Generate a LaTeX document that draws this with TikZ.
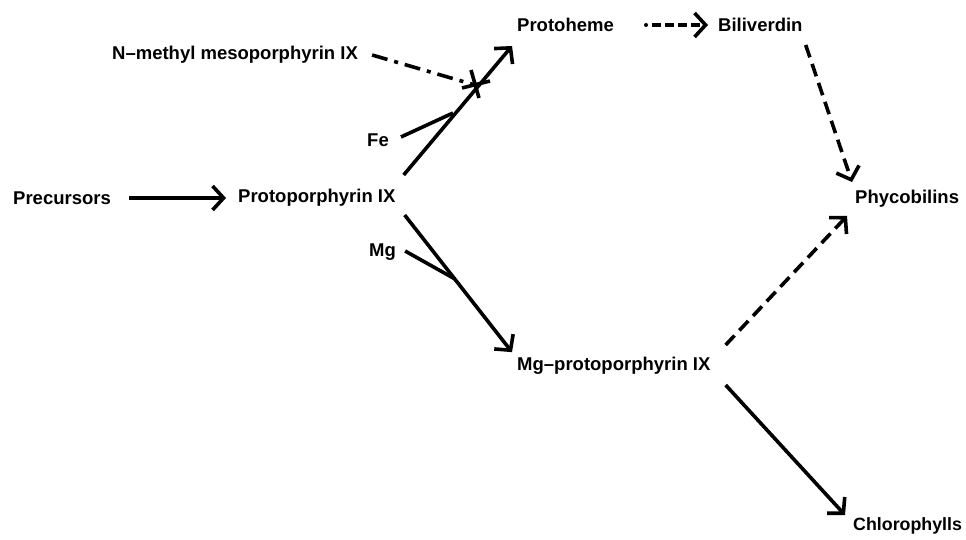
\documentclass[tikz,border=0pt]{standalone}
\usepackage{fontspec}
\setmainfont{Liberation Sans}
\usetikzlibrary{arrows.meta}
\begin{document}
\begin{tikzpicture}[x=1pt,y=-1pt,
  lbl/.style={anchor=west,inner sep=0pt,font=\bfseries\fontsize{18.5}{20}\selectfont},
  conn/.style={line width=3.6pt,-{Straight Barb[length=11pt,width=24pt,line width=3.6pt]}},
  plain/.style={line width=3.6pt},
  dsh/.style={dash pattern=on 13pt off 7pt},
  shortdsh/.style={dash pattern=on 9pt off 4pt},
  dshdot/.style={dash pattern=on 16pt off 7pt on 4pt off 7pt}]
\useasboundingbox (0,0) rectangle (966,540);
\node[lbl] (pre) at (13,198) {Precursors};
\node[lbl] (pp) at (238,198) {Protoporphyrin IX};
\node[lbl] (nm) at (112,55) {N--methyl mesoporphyrin IX};
\node[lbl] (ph) at (517,25) {Protoheme};
\node[lbl] (bv) at (718,25) {Biliverdin};
\node[lbl] (pc) at (855,199) {Phycobilins};
\node[lbl] (fe) at (367,140) {Fe};
\node[lbl] (mg) at (369,252) {Mg};
\node[lbl] (mgp) at (517,366) {Mg--protoporphyrin IX};
\node[lbl,font=\bfseries\fontsize{17.8}{20}\selectfont] (chl) at (853,526) {Chlorophylls};
\coordinate (star) at (475,85);
% main arrows
\draw[conn] ([xshift=18pt]pre.east) -- ([xshift=-12pt]pp.west);
\draw[conn] ([shift={(8,-23)}]pp.east) -- ([shift={(-5,14)}]ph.south west);
\draw[conn] ([shift={(9,17)}]pp.east) -- ([shift={(-5,-5)}]mgp.north west);
% Fe and Mg branches
\draw[plain] ([shift={(12,-3)}]fe.east) -- (453,113);
\draw[plain] ([shift={(9,-1)}]mg.east) -- (455,279);
% inhibition
\draw[plain,dshdot] ([shift={(14,0)}]nm.east) -- (star);
\draw[plain] ([shift={(-13,3)}]star) -- ([shift={(15,-4)}]star);
\draw[plain] ([shift={(-4,-15)}]star) -- ([shift={(4,13)}]star);
% dashed
\fill ([xshift=32pt]ph.east) circle (2pt);
\draw[conn,shortdsh] ([xshift=38pt]ph.east) -- ([xshift=-10pt]bv.west);
\draw[conn,dsh] ([shift={(3,20)}]bv.east) -- ([shift={(-3,-17)}]pc.west);
\draw[conn,dsh] ([shift={(15,-21)}]mgp.east) -- ([shift={(-8,17)}]pc.west);
\draw[conn] ([shift={(15,19)}]mgp.east) -- ([shift={(-8,-11)}]chl.west);
\end{tikzpicture}
\end{document}
